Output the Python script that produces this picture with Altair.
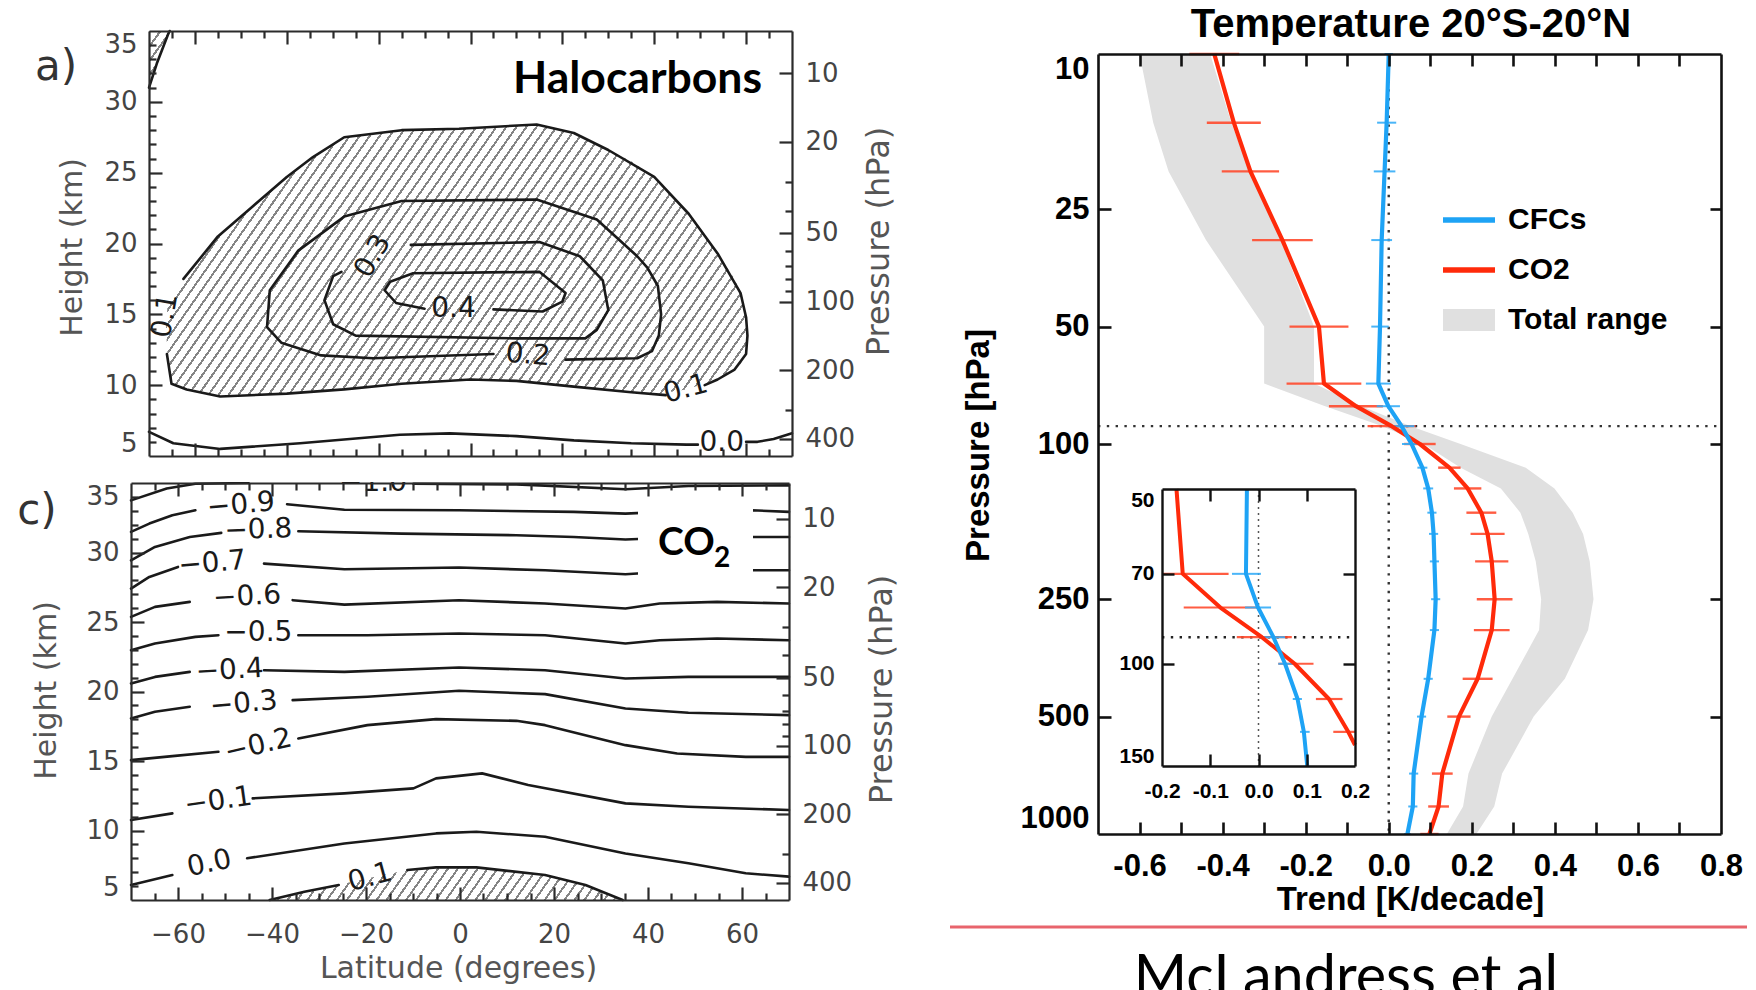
import math
import altair as alt
import pandas as pd

W, H = 1756, 990

# ---------------- Panel a) Halocarbons : contour lines (latitude deg, height km)
A01_UP_LAT = [-62.5, -55.0, -47.5, -40.0, -34.3, -27.5, -15.0, -2.5, 14.4, 22.5, 30.0, 40.0, 47.5, 53.8, 58.8, 60.0, 60.3, 60.0, 57.5, 53.8, 51.0]
A01_UP_H = [17.5, 20.5, 22.6, 24.7, 26.1, 27.5, 28.0, 28.1, 28.4, 27.8, 26.6, 24.7, 22.1, 19.3, 16.5, 14.8, 13.5, 12.2, 11.1, 10.4, 10.0]
A01_LO_LAT = [42.5, 35.0, 22.5, 10.0, 0.0, -15.0, -27.5, -40.0, -54.5, -61.8, -65.1, -66.1]
A01_LO_H = [9.3, 9.5, 9.9, 10.3, 10.4, 10.1, 9.7, 9.4, 9.2, 9.7, 10.1, 12.2]
A02_LAT = [20.7, 36.3, 39.5, 41.0, 41.5, 40.8, 38.5, 36.3, 27.5, 14.4, -15.0, -27.5, -37.5, -43.7, -44.3, -41.2, -32.5, -21.2, 5.0]
A02_H = [11.8, 11.9, 12.4, 13.5, 15.0, 17.0, 18.3, 19.1, 21.7, 23.1, 23.0, 21.9, 19.5, 16.7, 14.1, 13.0, 12.1, 11.9, 12.2]
A03_LAT = [-13.0, 15.0, 23.8, 28.8, 30.0, 27.5, 25.0, 10.0, -25.0, -29.9, -31.8, -29.9, -28.1]
A03_H = [19.9, 20.1, 19.1, 17.4, 15.3, 13.9, 13.3, 13.3, 13.5, 14.3, 16.0, 17.7, 18.0]
A04_LAT = [5.0, 15.7, 20.0, 20.7, 15.0, -12.5, -17.5, -18.7, -16.2, -10.0]
A04_H = [15.35, 15.2, 15.9, 16.5, 18.0, 17.9, 17.3, 16.7, 15.8, 15.4]
A00_L_LAT = [-70.0, -64.7, -54.5, -37.1, -15.4, -4.5, 10.0, 22.5, 35.0, 47.0, 49.5]
A00_L_H = [6.7, 5.9, 5.5, 5.9, 6.5, 6.6, 6.4, 6.1, 5.9, 5.8, 5.8]
A00_R_LAT = [60.0, 62.5, 66.0, 70.0]
A00_R_H = [6.0, 6.0, 6.2, 6.6]
ACOR_LAT = [-70.0, -68.3, -65.8, -65.5]
ACOR_H = [31.0, 32.7, 34.8, 35.0]

# hatched (>0.1) region of panel a
HATCH_A_LAT = [-66.3, -66.0, -65.1, -63.5, -61.8, -55.0, -47.5, -40.0, -34.3, -27.5, -15.0, -2.5, 10.0, 14.4, 22.5, 30.0, 35.0, 40.0, 46.9, 53.8, 57.5, 58.8, 60.0, 60.3]
HATCH_A_LO = [14.0, 12.3, 10.1, 9.8, 9.7, 9.2, 9.3, 9.4, 9.55, 9.7, 10.1, 10.4, 10.3, 10.2, 9.9, 9.6, 9.5, 9.35, 9.7, 10.4, 11.1, 11.5, 12.2, 13.5]
HATCH_A_HI = [14.0, 15.5, 16.3, 17.0, 17.7, 20.5, 22.6, 24.7, 26.1, 27.5, 28.0, 28.1, 28.3, 28.4, 27.8, 26.6, 25.8, 24.7, 22.3, 19.3, 17.5, 16.5, 14.8, 13.5]

A_LBL_TEXT = ["0.1", "0.4", "0.3", "0.2", "0.1", "0.0"]
A_LBL_LAT = [-66.4, -3.7, -21.2, 12.5, 46.9, 54.7]
A_LBL_H = [14.9, 15.4, 19.1, 12.1, 9.7, 5.9]
A_LBL_ANG = [280, 0, 300, 5, 345, 0]

# ---------------- Panel c) CO2 : contour lines
C_M10_L_LAT = [-70.0, -62.4, -56.3, -45.0]
C_M10_L_H = [33.75, 34.6, 34.95, 35.0]
C_M10_R_LAT = [-9.9, 12.0, 35.2, 48.6, 70.0]
C_M10_R_H = [34.95, 34.9, 34.55, 34.78, 34.83]
C_M09_L_LAT = [-70.0, -66.1, -61.2, -56.3]
C_M09_L_H = [31.48, 32.08, 32.68, 33.04]
C_M09_R_LAT = [-36.8, -24.6, -0.2, 24.2, 35.2, 48.6, 62.1, 70.0]
C_M09_R_H = [33.47, 33.08, 33.04, 32.92, 32.80, 33.0, 33.04, 32.92]
C_M08_L_LAT = [-70.0, -64.9, -57.5, -50.8]
C_M08_L_H = [29.44, 30.4, 31.12, 31.41]
C_M08_R_LAT = [-34.4, -12.4, 12.0, 24.2, 35.2, 48.6, 70.0]
C_M08_R_H = [31.53, 31.36, 31.24, 31.12, 30.93, 31.12, 31.12]
C_M07_L_LAT = [-70.0, -66.1, -60.0]
C_M07_L_H = [27.4, 28.24, 28.96]
C_M07_R_LAT = [-41.7, -24.6, -0.2, 18.1, 35.2, 48.6, 70.0]
C_M07_R_H = [29.2, 28.79, 28.92, 28.72, 28.43, 28.72, 28.72]
C_M06_L_LAT = [-70.0, -64.9, -57.5]
C_M06_L_H = [25.37, 26.09, 26.45]
C_M06_R_LAT = [-35.6, -24.6, -0.2, 18.1, 35.2, 42.5, 54.7, 70.0]
C_M06_R_H = [26.57, 26.25, 26.57, 26.33, 25.97, 26.33, 26.45, 26.33]
C_M05_L_LAT = [-70.0, -64.9, -56.3, -51.4]
C_M05_L_H = [22.97, 23.45, 23.93, 24.05]
C_M05_R_LAT = [-34.4, -19.7, -0.2, 18.1, 35.2, 42.5, 54.7, 70.0]
C_M05_R_H = [24.05, 24.05, 24.17, 24.05, 23.45, 23.69, 23.81, 23.69]
C_M04_L_LAT = [-70.0, -64.9, -57.5]
C_M04_L_H = [20.58, 21.05, 21.41]
C_M04_R_LAT = [-41.7, -24.6, -0.2, 18.1, 35.2, 48.6, 70.0]
C_M04_R_H = [21.53, 21.41, 21.73, 21.53, 20.93, 21.05, 21.05]
C_M03_L_LAT = [-70.0, -64.9, -57.5]
C_M03_L_H = [18.06, 18.54, 18.90]
C_M03_R_LAT = [-35.6, -19.7, -0.2, 18.1, 35.2, 48.6, 70.0]
C_M03_R_H = [19.38, 19.62, 20.05, 19.81, 18.78, 18.47, 18.30]
C_M02_L_LAT = [-70.0, -61.2, -51.4]
C_M02_L_H = [15.06, 15.35, 15.66]
C_M02_R_LAT = [-34.4, -19.7, -5.1, 12.0, 18.1, 35.2, 46.2, 60.8, 70.0]
C_M02_R_H = [16.62, 17.58, 18.01, 17.89, 17.58, 16.14, 15.54, 15.30, 15.30]
C_M01_L_LAT = [-70.0, -61.2]
C_M01_L_H = [10.75, 11.23]
C_M01_R_LAT = [-44.1, -24.6, -9.9, -5.1, 4.7, 14.5, 35.2, 48.6, 70.0]
C_M01_R_H = [12.31, 12.67, 13.03, 13.75, 14.11, 13.27, 11.95, 11.71, 11.47]
C_00_L_LAT = [-70.0, -61.2]
C_00_L_H = [6.08, 6.8]
C_00_R_LAT = [-45.3, -24.6, -5.1, 3.5, 18.1, 35.2, 48.6, 60.8, 70.0]
C_00_R_H = [8.0, 9.07, 9.79, 9.91, 9.55, 8.35, 7.64, 6.92, 6.68]
C_01_L_LAT = [-40.5, -33.1, -25.8]
C_01_L_H = [5.0, 5.6, 6.08]
C_01_R_LAT = [-11.2, -5.1, 3.5, 18.1, 26.7, 34.6]
C_01_R_H = [7.16, 7.35, 7.35, 6.8, 6.08, 5.0]

HATCH_C_LAT = [-40.5, -33.1, -25.8, -19.1, -11.2, -5.1, 3.5, 18.1, 26.7, 34.6]
HATCH_C_HI = [5.0, 5.6, 6.1, 6.6, 7.15, 7.35, 7.35, 6.8, 6.1, 5.0]

C_LBL_TEXT = ["−1.0", "−0.9", "−0.8", "−0.7", "−0.6", "−0.5", "−0.4", "−0.3", "−0.2", "−0.1", "0.0", "0.1"]
C_LBL_LAT = [-18.5, -46.6, -42.9, -52.7, -45.3, -42.9, -49.0, -46.0, -42.9, -51.4, -53.3, -19.1]
C_LBL_H = [35.0, 33.4, 31.6, 29.2, 26.8, 24.2, 21.5, 19.1, 16.1, 12.1, 7.6, 6.6]
C_LBL_ANG = [0, 355, 358, 355, 357, 0, 357, 355, 347, 352, 348, 345]

# ---------------- Right panel: Temperature trend 20S-20N
R_P = [10, 15, 20, 30, 50, 70, 80, 90, 100, 115, 130, 150, 170, 200, 250, 300, 400, 500, 700, 850, 1000]
R_CO2 = [-0.420, -0.373, -0.333, -0.256, -0.168, -0.156, -0.079, 0.007, 0.075, 0.146, 0.190, 0.223, 0.238, 0.248, 0.255, 0.248, 0.214, 0.169, 0.129, 0.120, 0.098]
R_CFC = [0.000, -0.005, -0.010, -0.017, -0.021, -0.025, -0.001, 0.031, 0.055, 0.081, 0.095, 0.104, 0.108, 0.110, 0.113, 0.110, 0.095, 0.079, 0.060, 0.058, 0.045]
R_CO2_ERR = [0.060, 0.065, 0.069, 0.073, 0.071, 0.090, 0.065, 0.058, 0.038, 0.027, 0.033, 0.036, 0.041, 0.040, 0.043, 0.043, 0.036, 0.028, 0.025, 0.025, 0.022]
R_CFC_ERR = [0.010, 0.023, 0.026, 0.025, 0.021, 0.030, 0.028, 0.031, 0.023, 0.012, 0.012, 0.011, 0.011, 0.011, 0.011, 0.011, 0.011, 0.011, 0.011, 0.011, 0.008]
R_BAND_LO = [-0.600, -0.567, -0.530, -0.440, -0.300, -0.300, -0.153, -0.015, 0.084, 0.173, 0.270, 0.317, 0.336, 0.354, 0.367, 0.362, 0.298, 0.248, 0.192, 0.179, 0.140]
R_BAND_HI = [-0.430, -0.379, -0.335, -0.260, -0.180, -0.180, -0.065, 0.053, 0.173, 0.330, 0.399, 0.443, 0.468, 0.484, 0.493, 0.480, 0.424, 0.349, 0.273, 0.254, 0.211]
R_DOT_P = 90

# inset (50-150 hPa)
I_P_CO2 = [50, 70, 80, 90, 100, 115, 131, 138]
I_CO2 = [-0.170, -0.157, -0.079, 0.007, 0.075, 0.146, 0.186, 0.200]
I_P_CFC = [50, 70, 80, 90, 100, 115, 131, 150]
I_CFC = [-0.024, -0.026, -0.001, 0.031, 0.055, 0.081, 0.094, 0.101]
I_ERR_P = [70, 80, 90, 100, 115, 131]
I_CO2_LO = [-0.200, -0.155, -0.045, 0.041, 0.119, 0.155]
I_CO2_HI = [-0.062, -0.003, 0.069, 0.114, 0.174, 0.200]
I_CFC_LO = [-0.055, -0.028, 0.010, 0.041, 0.071, 0.086]
I_CFC_HI = [0.005, 0.026, 0.055, 0.072, 0.090, 0.106]

LEGEND_LABELS = ["CFCs", "CO2", "Total range"]

# tick / label values
LAT_TICKS = [-65, -60, -55, -50, -45, -40, -35, -30, -25, -20, -15, -10, -5, 0, 5, 10, 15, 20, 25, 30, 35, 40, 45, 50, 55, 60, 65]
LAT_LABELS = [-60, -40, -20, 0, 20, 40, 60]
HGT_TICKS = list(range(6, 35))
HGT_LABELS = [5, 10, 15, 20, 25, 30, 35]
PRS_TICKS = [10, 20, 30, 40, 50, 60, 70, 80, 90, 100, 200, 300, 400]
PRS_LABELS = [10, 20, 50, 100, 200, 400]
R_XTICKS = [-0.6, -0.5, -0.4, -0.3, -0.2, -0.1, 0.0, 0.1, 0.2, 0.3, 0.4, 0.5, 0.6, 0.7]
R_XLABELS = [-0.6, -0.4, -0.2, 0.0, 0.2, 0.4, 0.6, 0.8]
R_YLABELS = [10, 25, 50, 100, 250, 500, 1000]
R_YTICKS = [25, 50, 100, 250, 500]
I_XLABELS = [-0.2, -0.1, 0.0, 0.1, 0.2]
I_XTICKS = [-0.1, 0.0, 0.1]
I_YLABELS = [50, 70, 100, 150]
I_YTICKS = [70, 100]

# ---------------- styling / geometry
FT = "DejaVu Sans"
FB = "Liberation Sans"
RED = "#ff2a0a"
BLUE = "#1ea3f5"
GRAY = "#e0e0e0"
INK = "#2b2b2b"

A_BOX = (149, 792, 31, 456)   # x0, x1, ytop, ybottom
C_BOX = (131, 789, 483, 900)
R_BOX = (1098, 1721, 54, 834)
I_BOX = (1162, 1355, 489, 766)


def sc(domain, rng, typ="linear"):
    return alt.Scale(type=typ, domain=domain, range=rng, nice=False, zero=False)


A_X = sc([-70, 70], [A_BOX[0], A_BOX[1]])
A_Y = sc([5, 35], [A_BOX[3], A_BOX[2]])
A_P = sc([6.536, 474.9], [A_BOX[2], A_BOX[3]], "log")
C_X = sc([-70, 70], [C_BOX[0], C_BOX[1]])
C_Y = sc([5, 35], [C_BOX[3], C_BOX[2]])
C_P = sc([6.965, 476.7], [C_BOX[2], C_BOX[3]], "log")
R_X = sc([-0.7, 0.8], [R_BOX[0], R_BOX[1]])
R_Y = sc([10, 1000], [R_BOX[2], R_BOX[3]], "log")
I_X = sc([-0.2, 0.2], [I_BOX[0], I_BOX[1]])
I_Y = sc([50, 150], [I_BOX[2], I_BOX[3]], "log")

ONE = pd.DataFrame({"k": [0]})


def hatch(w, h, period=8.2, lw=2.0, ang=55.0, col="#858585"):
    th = math.radians(ang)
    nx, ny = math.sin(th), math.cos(th)
    a, b = w * nx, h * ny
    s = (a + b) / (a * a + b * b)
    n = max(1, int(round((a + b) / period)))
    f = lw / period
    stops = []
    for k in range(n):
        o0, o1, o2 = k / n, (k + f) / n, (k + 1) / n
        stops += [alt.GradientStop(offset=o0, color=col), alt.GradientStop(offset=o1, color=col),
                  alt.GradientStop(offset=o1, color="#ffffff"), alt.GradientStop(offset=o2, color="#ffffff")]
    return alt.LinearGradient(gradient="linear", stops=stops, x1=0, y1=0, x2=a * s, y2=b * s)


def segs(*pairs):
    rows = []
    for sid, (xs, ys) in enumerate(pairs):
        for i, (x, y) in enumerate(zip(xs, ys)):
            rows.append({"s": sid, "i": i, "x": x, "y": y})
    return pd.DataFrame(rows)


def px_text(txt, x, y, size, font, weight="normal", color="#000", align="center", baseline="middle"):
    return alt.Chart(ONE).mark_text(font=font, fontSize=size, fontWeight=weight, color=color,
                                    align=align, baseline=baseline).encode(
        x=alt.value(x), y=alt.value(y), text=alt.value(txt))


def px_rect(x0, x1, y0, y1, color):
    return alt.Chart(ONE).mark_rect(color=color).encode(
        x=alt.value(x0), x2=alt.value(x1), y=alt.value(y0), y2=alt.value(y1))


def px_rule(x0, x1, y, color, width):
    return alt.Chart(ONE).mark_rule(color=color, strokeWidth=width).encode(
        x=alt.value(x0), x2=alt.value(x1), y=alt.value(y))


def tick_axis(orient, offset, values, size, color=INK, width=2.2):
    return alt.Axis(orient=orient, offset=offset, values=values, labels=False, ticks=True,
                    tickSize=size, tickColor=color, tickWidth=width, domain=True,
                    domainColor=color, domainWidth=width, grid=False, title=None, zindex=1)


def label_axis(orient, offset, values, font, size, color, pad, weight="normal", flush=False, **kw):
    if "title" not in kw:
        kw["title"] = None
    return alt.Axis(orient=orient, offset=offset, values=values, labels=True, ticks=False,
                    tickSize=0, domain=False, grid=False, labelFont=font, labelFontSize=size,
                    labelColor=color, labelFontWeight=weight, labelPadding=pad, labelFlush=flush,
                    labelOverlap=False, zindex=1, **kw)


def axis_layer(channel, scale, axis, v):
    df = pd.DataFrame({"v": [v]})
    if channel == "x":
        enc = {"x": alt.X("v:Q", scale=scale, axis=axis)}
    else:
        enc = {"y": alt.Y("v:Q", scale=scale, axis=axis)}
    return alt.Chart(df).mark_point(opacity=0).encode(**enc)


def cond(test, big, small):
    return {"condition": {"test": test, "value": big}, "value": small}


LAT_SIZE = cond("datum.value % 20 === 0", 13, 7)
HGT_SIZE = cond("datum.value % 5 === 0", 13, 7)
PRS_SIZE = cond("indexof([10,20,50,100,200,400], datum.value) >= 0", 13, 7)
HYPHEN = "datum.value < 0 ? '-' + format(-datum.value, '.1f') : format(datum.value, '.1f')"

layers = []

# ---------------- panel a hatch + contours
ha = pd.DataFrame({"x": HATCH_A_LAT, "lo": HATCH_A_LO, "hi": HATCH_A_HI})
wa = (max(HATCH_A_LAT) - min(HATCH_A_LAT)) * (A_BOX[1] - A_BOX[0]) / 140
hh = (max(HATCH_A_HI) - min(HATCH_A_LO)) * (A_BOX[3] - A_BOX[2]) / 30
layers.append(alt.Chart(ha).mark_area(color=hatch(wa, hh), orient="vertical").encode(
    x=alt.X("x:Q", scale=A_X, axis=None), y=alt.Y("lo:Q", scale=A_Y, axis=None), y2="hi:Q"))
hc = pd.DataFrame({"x": ACOR_LAT, "y": ACOR_H})
layers.append(alt.Chart(hc).mark_area(color=hatch(20, 57), orient="horizontal").encode(
    y=alt.Y("y:Q", scale=A_Y, axis=None), x=alt.X("x:Q", scale=A_X, axis=None), x2=alt.X2(datum=-70.0)))

# panel c hatch
hcd = pd.DataFrame({"x": HATCH_C_LAT, "hi": HATCH_C_HI})
wc = (max(HATCH_C_LAT) - min(HATCH_C_LAT)) * (C_BOX[1] - C_BOX[0]) / 140
hcc = (max(HATCH_C_HI) - 5.0) * (C_BOX[3] - C_BOX[2]) / 30
layers.append(alt.Chart(hcd).mark_area(color=hatch(wc, hcc), orient="vertical").encode(
    x=alt.X("x:Q", scale=C_X, axis=None), y=alt.Y("hi:Q", scale=C_Y, axis=None), y2=alt.Y2(datum=5.0)))

A_LINES = segs((A01_UP_LAT, A01_UP_H), (A01_LO_LAT, A01_LO_H), (A02_LAT, A02_H), (A03_LAT, A03_H),
               (A04_LAT, A04_H), (A00_L_LAT, A00_L_H), (A00_R_LAT, A00_R_H), (ACOR_LAT, ACOR_H))
C_LINES = segs((C_M10_L_LAT, C_M10_L_H), (C_M10_R_LAT, C_M10_R_H), (C_M09_L_LAT, C_M09_L_H), (C_M09_R_LAT, C_M09_R_H),
               (C_M08_L_LAT, C_M08_L_H), (C_M08_R_LAT, C_M08_R_H), (C_M07_L_LAT, C_M07_L_H), (C_M07_R_LAT, C_M07_R_H),
               (C_M06_L_LAT, C_M06_L_H), (C_M06_R_LAT, C_M06_R_H), (C_M05_L_LAT, C_M05_L_H), (C_M05_R_LAT, C_M05_R_H),
               (C_M04_L_LAT, C_M04_L_H), (C_M04_R_LAT, C_M04_R_H), (C_M03_L_LAT, C_M03_L_H), (C_M03_R_LAT, C_M03_R_H),
               (C_M02_L_LAT, C_M02_L_H), (C_M02_R_LAT, C_M02_R_H), (C_M01_L_LAT, C_M01_L_H), (C_M01_R_LAT, C_M01_R_H),
               (C_00_L_LAT, C_00_L_H), (C_00_R_LAT, C_00_R_H), (C_01_L_LAT, C_01_L_H), (C_01_R_LAT, C_01_R_H))
for df, xs, ys in ((A_LINES, A_X, A_Y), (C_LINES, C_X, C_Y)):
    layers.append(alt.Chart(df).mark_line(color="#1a1a1a", strokeWidth=2.6, strokeCap="round", strokeJoin="round").encode(
        x=alt.X("x:Q", scale=xs, axis=None), y=alt.Y("y:Q", scale=ys, axis=None), detail="s:N", order="i:Q"))

for txt, la, hg, an, xs, ys in ((A_LBL_TEXT, A_LBL_LAT, A_LBL_H, A_LBL_ANG, A_X, A_Y),
                                (C_LBL_TEXT, C_LBL_LAT, C_LBL_H, C_LBL_ANG, C_X, C_Y)):
    df = pd.DataFrame({"t": txt, "x": la, "y": hg, "a": an})
    layers.append(alt.Chart(df).mark_text(font=FT, fontSize=28, color="#1a1a1a", align="center", baseline="middle").encode(
        x=alt.X("x:Q", scale=xs, axis=None), y=alt.Y("y:Q", scale=ys, axis=None), text="t:N",
        angle=alt.Angle("a:Q", scale=None)))

# masks (gap between panels, box behind CO2 label)
layers.append(px_rect(C_BOX[0] - 2, C_BOX[1] + 2, A_BOX[3] + 2, C_BOX[2] - 1, "#ffffff"))
layers.append(px_rect(638, 753, 499, 580, "#ffffff"))

layers.append(px_text("a)", 56, 67, 42, FT, color="#333333"))
layers.append(px_text("c)", 37, 511, 42, FT, color="#333333"))
layers.append(px_text("Halocarbons", 513, 93, 44.5, "Lato", weight="bold", align="left", baseline="alphabetic"))
layers.append(px_text("CO", 658, 555, 39, "Lato", weight="bold", align="left", baseline="alphabetic"))
layers.append(px_text("2", 714, 567, 28, "Lato", weight="bold", align="left", baseline="alphabetic"))

# ---------------- right panel
band = pd.DataFrame({"p": R_P, "lo": R_BAND_LO, "hi": R_BAND_HI})
layers.append(alt.Chart(band).mark_area(color=GRAY, orient="horizontal").encode(
    y=alt.Y("p:Q", scale=R_Y, axis=None), x=alt.X("lo:Q", scale=R_X, axis=None), x2="hi:Q"))
layers.append(alt.Chart(pd.DataFrame({"x": [0.0], "p0": [10], "p1": [1000]})).mark_rule(
    color="#333333", strokeWidth=2.4, strokeDash=[2.4, 6.4]).encode(
    x=alt.X("x:Q", scale=R_X, axis=None), y=alt.Y("p0:Q", scale=R_Y, axis=None), y2="p1:Q"))
layers.append(alt.Chart(pd.DataFrame({"p": [R_DOT_P], "x0": [-0.7], "x1": [0.8]})).mark_rule(
    color="#333333", strokeWidth=2.4, strokeDash=[2.4, 6.4]).encode(
    y=alt.Y("p:Q", scale=R_Y, axis=None), x=alt.X("x0:Q", scale=R_X, axis=None), x2="x1:Q"))

main = pd.DataFrame({"p": R_P, "co2": R_CO2, "cfc": R_CFC, "ec": R_CO2_ERR, "ef": R_CFC_ERR, "i": range(len(R_P))})
main["co2_lo"] = main["co2"] - main["ec"]
main["co2_hi"] = main["co2"] + main["ec"]
main["cfc_lo"] = main["cfc"] - main["ef"]
main["cfc_hi"] = main["cfc"] + main["ef"]
for key, col, wdt in (("co2", "#ff4a2e", 2.4), ("cfc", "#35adf7", 2.0)):
    layers.append(alt.Chart(main).mark_rule(color=col, strokeWidth=wdt, opacity=0.9).encode(
        y=alt.Y("p:Q", scale=R_Y, axis=None), x=alt.X(f"{key}_lo:Q", scale=R_X, axis=None), x2=f"{key}_hi:Q"))
for key, col in (("co2", RED), ("cfc", BLUE)):
    layers.append(alt.Chart(main).mark_line(color=col, strokeWidth=4.2, strokeJoin="round").encode(
        y=alt.Y("p:Q", scale=R_Y, axis=None), x=alt.X(f"{key}:Q", scale=R_X, axis=None), order="i:Q"))

# inset
layers.append(alt.Chart(pd.DataFrame({"x": [0.0], "p0": [50], "p1": [150]})).mark_rule(
    color="#555555", strokeWidth=1.5, strokeDash=[2, 4]).encode(
    x=alt.X("x:Q", scale=I_X, axis=None), y=alt.Y("p0:Q", scale=I_Y, axis=None), y2="p1:Q"))
layers.append(alt.Chart(pd.DataFrame({"p": [R_DOT_P], "x0": [-0.2], "x1": [0.2]})).mark_rule(
    color="#222222", strokeWidth=2.4, strokeDash=[2.4, 6.4]).encode(
    y=alt.Y("p:Q", scale=I_Y, axis=None), x=alt.X("x0:Q", scale=I_X, axis=None), x2="x1:Q"))
ierr = pd.DataFrame({"p": I_ERR_P, "rlo": I_CO2_LO, "rhi": I_CO2_HI, "blo": I_CFC_LO, "bhi": I_CFC_HI})
for lo, hi, col, wdt in (("rlo", "rhi", "#ff4a2e", 2.2), ("blo", "bhi", "#35adf7", 2.0)):
    layers.append(alt.Chart(ierr).mark_rule(color=col, strokeWidth=wdt, opacity=0.9).encode(
        y=alt.Y("p:Q", scale=I_Y, axis=None), x=alt.X(f"{lo}:Q", scale=I_X, axis=None), x2=f"{hi}:Q"))
for ps, vs, col in ((I_P_CO2, I_CO2, RED), (I_P_CFC, I_CFC, BLUE)):
    df = pd.DataFrame({"p": ps, "v": vs, "i": range(len(ps))})
    layers.append(alt.Chart(df).mark_line(color=col, strokeWidth=4.0, strokeJoin="round").encode(
        y=alt.Y("p:Q", scale=I_Y, axis=None), x=alt.X("v:Q", scale=I_X, axis=None), order="i:Q"))

# legend
layers.append(px_rule(1443, 1495, 220, BLUE, 5.5))
layers.append(px_rule(1443, 1495, 270, RED, 5.5))
layers.append(px_rect(1443, 1495, 309, 331, GRAY))
for lab, yy in zip(LEGEND_LABELS, (220, 270, 320)):
    layers.append(px_text(lab, 1508, yy, 30, FB, weight="bold", align="left"))

layers.append(px_text("Temperature 20°S-20°N", 1411, 25, 40, FB, weight="bold"))
layers.append(px_rule(950, 1747, 927, "#e8646c", 3))
layers.append(px_text("McLandress et al", 1346, 996, 57.5, "Lato", align="center", baseline="alphabetic"))

# ---------------- axes (frames, inward ticks, labels)
TL = "#444444"
TT = "#555555"
PANEL_TITLES = {"a": (72, 247, 878, 241), "c": (46, 690, 881, 689)}
for key, box, XS, YS, PS, show_x in (("a", A_BOX, A_X, A_Y, A_P, False), ("c", C_BOX, C_X, C_Y, C_P, True)):
    x0, x1, yt, yb = box
    hx, hy, px_, py_ = PANEL_TITLES[key]
    layers.append(axis_layer("x", XS, tick_axis("bottom", yt - H, LAT_TICKS, LAT_SIZE), 0))
    layers.append(axis_layer("x", XS, tick_axis("top", -yb, LAT_TICKS, LAT_SIZE), 0))
    layers.append(axis_layer("y", YS, tick_axis("right", x0 - W, HGT_TICKS, HGT_SIZE), 10))
    layers.append(axis_layer("y", PS, tick_axis("left", -x1, PRS_TICKS, PRS_SIZE), 100))
    layers.append(axis_layer("y", YS, label_axis(
        "left", -x0, HGT_LABELS, FT, 26, TL, 12, flush=True, format="d",
        title="Height (km)", titleFont=FT, titleFontSize=30, titleFontWeight="normal", titleColor=TT,
        titleAngle=270, titleX=hx - x0, titleY=hy, titleAlign="center", titleBaseline="middle"), 10))
    layers.append(axis_layer("y", PS, label_axis(
        "right", x1 - W, PRS_LABELS, FT, 26, TL, 13, format="d",
        title="Pressure (hPa)", titleFont=FT, titleFontSize=32, titleFontWeight="normal", titleColor=TT,
        titleAngle=270, titleX=px_ - x1, titleY=py_, titleAlign="center", titleBaseline="middle"), 100))
    if show_x:
        layers.append(axis_layer("x", XS, label_axis(
            "bottom", yb - H, LAT_LABELS, FT, 26, TL, 21, format="d",
            title="Latitude (degrees)", titleFont=FT, titleFontSize=30, titleFontWeight="normal", titleColor=TT,
            titleX=458, titleY=968 - yb, titleAlign="center", titleBaseline="middle"), 0))

# right panel axes
x0, x1, yt, yb = R_BOX
layers.append(axis_layer("x", R_X, tick_axis("bottom", yt - H, R_XTICKS, 12, color="#111111", width=2.6), 0))
layers.append(axis_layer("x", R_X, tick_axis("top", -yb, R_XTICKS, 12, color="#111111", width=2.6), 0))
layers.append(axis_layer("y", R_Y, tick_axis("right", x0 - W, R_YTICKS, 13, color="#111111", width=2.6), 100))
layers.append(axis_layer("y", R_Y, tick_axis("left", -x1, R_YTICKS, 11, color="#111111", width=2.6), 100))
layers.append(axis_layer("x", R_X, label_axis(
    "bottom", yb - H, R_XLABELS, FB, 31, "#000000", 17, weight="bold", labelExpr=HYPHEN,
    title="Trend [K/decade]", titleFont=FB, titleFontSize=33, titleFontWeight="bold", titleColor="#000000",
    titleX=1410, titleY=899 - yb, titleAlign="center", titleBaseline="middle"), 0))
layers.append(axis_layer("y", R_Y, label_axis(
    "left", -x0, R_YLABELS, FB, 31, "#000000", 9, weight="bold", flush=5, format="d",
    title="Pressure [hPa]", titleFont=FB, titleFontSize=33, titleFontWeight="bold", titleColor="#000000",
    titleAngle=270, titleX=978 - x0, titleY=445, titleAlign="center", titleBaseline="middle"), 100))

# inset axes
x0, x1, yt, yb = I_BOX
layers.append(axis_layer("x", I_X, tick_axis("bottom", yt - H, I_XTICKS, 12, color="#111111", width=2.4), 0))
layers.append(axis_layer("x", I_X, tick_axis("top", -yb, I_XTICKS, 12, color="#111111", width=2.4), 0))
layers.append(axis_layer("y", I_Y, tick_axis("right", x0 - W, I_YTICKS, 12, color="#111111", width=2.4), 100))
layers.append(axis_layer("y", I_Y, tick_axis("left", -x1, I_YTICKS, 12, color="#111111", width=2.4), 100))
layers.append(axis_layer("x", I_X, label_axis(
    "bottom", yb - H, I_XLABELS, FB, 21, "#000000", 14, weight="bold", labelExpr=HYPHEN), 0))
layers.append(axis_layer("y", I_Y, label_axis(
    "left", -x0, I_YLABELS, FB, 21, "#000000", 8, weight="bold", flush=4, format="d"), 100))

chart = alt.layer(*layers).resolve_scale(x="independent", y="independent").resolve_axis(
    x="independent", y="independent").properties(
    width=W, height=H, padding=0, autosize=alt.AutoSizeParams(type="none"), background="white"
).configure_view(stroke=None)

chart.save("out.html", embed_options={"renderer": "svg", "actions": False})
